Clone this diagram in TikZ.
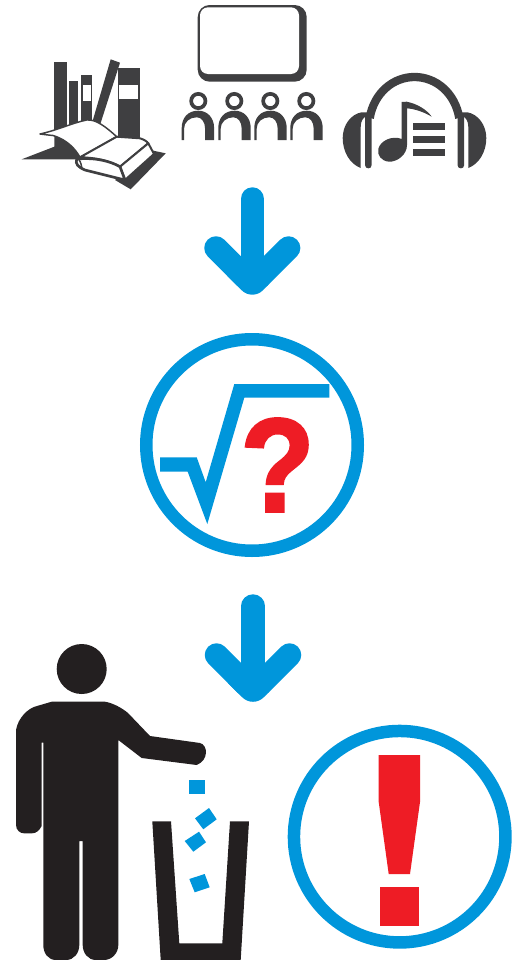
\documentclass[tikz,border=0pt]{standalone}
\usepackage{fontspec}
\setmainfont{Liberation Sans}
\newfontfamily\qfont[UprightFont={* Bold},FakeBold=2]{Liberation Sans}
\definecolor{cblue}{HTML}{0096DB}
\definecolor{cred}{HTML}{EE1C25}
\definecolor{cdark}{HTML}{3F3F41}
\definecolor{cblack}{HTML}{231F20}
\tikzset{
 ring/.style={draw=cblue,line width=12.5*0.75pt,fill=white,circle,minimum size=211.5*0.75pt,inner sep=0pt},
 arrowline/.style={draw=cblue,line width=23.5*0.75pt,line cap=round,line join=round},
 dk/.style={fill=cdark,draw=none},
 bk/.style={fill=cblack,draw=none},
 blu/.style={fill=cblue,draw=none},
 rd/.style={fill=cred,draw=none},
 page/.style={fill=white,draw=cdark,line width=1.5pt,line join=round},
}
\begin{document}
\begin{tikzpicture}[x=0.75pt,y=-0.75pt]
\useasboundingbox (0,0) rectangle (529,960);
% books
\fill[dk] (54.3,61.7) rectangle (67.3,135);
\fill[dk] (69,81) rectangle (78.3,130);
\fill[dk] (80.7,74.7) rectangle (92,125);
\fill[white] (82.7,85) rectangle (91,101);
\fill[dk] (110.7,59.3) -- (120,62.7) -- (100,125) -- (92.3,122) -- cycle;
\fill[dk] (117.7,68.3) rectangle (140.3,145);
\fill[white] (119.3,84.7) rectangle (138.3,99.3);
\fill[dk] (21.7,159.3) -- (54.3,146.7) -- (54.3,130) -- (80,130) -- (80,159.3) -- cycle;
\fill[dk] (150,150) -- (165.7,153.3) -- (130.7,189.3) -- (115,180) -- cycle;
% open book
\path[fill=white,draw=cdark,line width=1.1pt,line join=round] (40,134) .. controls (58,130) and (72,123) .. (86.7,120) .. controls (96,119) and (106,127) .. (116.7,136.7) -- (80,157.3) .. controls (76,150) and (68,140) .. (53,135.5) .. controls (48,135) and (44,134.5) .. (40,134) -- cycle;
\path[page] (116.7,136.7) -- (140,138.3) .. controls (144,139.5) and (147,141.5) .. (148.3,143.3) -- (120,166.7) .. controls (110,161) and (96,157.5) .. (80,157.3) -- cycle;
\path[page] (148.3,143.3) -- (154,154) -- (125,180) -- (120,166.7) -- cycle;
\path[fill=white,draw=cdark,line width=2pt,line join=round] (76.7,159) .. controls (95,157.3) and (110,161) .. (120,166.7) -- (125,180) -- (85,170) .. controls (78,167) and (75,164) .. (76.7,159) -- cycle;
\draw[cdark,line width=1.1pt] (78.5,159) .. controls (81,162) and (81.5,166) .. (82,169);
% screen
\path[fill=cdark,rounded corners=9pt] (197.7,5) rectangle (306.7,81.7);
\path[fill=white,rounded corners=6pt] (200,7.3) rectangle (299,74);
% audience
\foreach \hx/\hn in {198.3/a,234.3/b,270.3/c,306.3/d}{
  \node[circle,draw=cdark,line width=3.7*0.75pt,fill=white,minimum size=14.3*0.75pt,inner sep=0pt] (h\hn) at (\hx,101) {};
}
\foreach \px in {181.7,218.3,254.3,290.3}{
  \fill[cdark] (\px,140) -- (\px,128) .. controls (\px,118) and (\px+6,110.7) .. (\px+16.5,110.7)
     .. controls (\px+26,110.7) and (\px+32.4,118) .. (\px+32.4,128) -- (\px+32.4,140) -- (\px+23.4,140) -- (\px+23.4,129) .. controls (\px+23.4,122) and (\px+20,117.3) .. (\px+15,117.3)
     .. controls (\px+8,117.3) and (\px+2.3,122) .. (\px+2.3,129) -- (\px+2.3,140) -- cycle;
}
% headphones
\draw[cdark,line width=8.3*0.75pt] (369.7,118) .. controls (374,93) and (393,77) .. (414.5,77) .. controls (436,77) and (455,93) .. (459.3,118);
\fill[cdark] (367.5,112.3) -- (361.7,112.3) .. controls (351,114) and (342.7,125) .. (342.7,138) .. controls (342.7,152) and (350,164) .. (360.7,168) -- (360.7,127) .. controls (360.7,121) and (363,117) .. (367.5,116) -- cycle;
\fill[cdark] (461.5,112.3) -- (467.3,112.3) .. controls (478,114) and (486.3,125) .. (486.3,138) .. controls (486.3,152) and (479,164) .. (468.3,168) -- (468.3,127) .. controls (468.3,121) and (466,117) .. (461.5,116) -- cycle;
\fill[cdark] (365,116) -- (371.7,116) -- (371.7,165) .. controls (371.7,169.5) and (365,169.5) .. (365,165) -- cycle;
\fill[cdark] (457.5,116) -- (464.2,116) -- (464.2,165) .. controls (464.2,169.5) and (457.5,169.5) .. (457.5,165) -- cycle;
% note
\fill[cdark] (401.7,102) -- (406.7,101.7) .. controls (418,104) and (427,110) .. (431.7,116.7) .. controls (424,112) and (415,109) .. (407,108.3) -- (407,145) .. controls (407,155) and (397,162) .. (389,161.7) .. controls (381,161) and (377,155) .. (378.3,149) .. controls (380,141) and (392,135) .. (401.7,139) -- cycle;
\fill[cdark] (413.3,123.3) rectangle (445,130);
\fill[cdark] (413.3,136) rectangle (445,142.7);
\fill[cdark] (413.3,149) rectangle (445,155.7);
% arrow 1
\coordinate (a1s) at (252.3,199);
\coordinate (a1e) at (252.3,280);
\coordinate (a1l) at (216,248);
\coordinate (a1r) at (288.6,248);
\coordinate (a1il) at (245,277);
\coordinate (a1ir) at (259.6,277);
\coordinate (a1t) at (252.3,300.9);
\coordinate (a1p) at (227.3,275.9);
\coordinate (a1q) at (277.3,275.9);
\draw[arrowline] (a1s) -- (a1e);
\draw[arrowline] (a1l) -- (a1il);
\draw[arrowline] (a1r) -- (a1ir);
\fill[cblue] (a1p) [rounded corners=11.25pt] -- (a1t) -- (a1q) [sharp corners] -- cycle;
% middle circle
\node[ring] (c1) at (252,445) {};
\fill[cblue] (160,457.3) -- (196.7,457.3) -- (205.7,482.3) -- (234.3,384) -- (329.3,384) -- (329.3,397.7) -- (244.3,397.7) -- (207.3,524) -- (187.7,471.7) -- (160,471.7) -- cycle;
\node[text=cred,font=\qfont\fontsize{100pt}{100pt}\selectfont,inner sep=0pt,anchor=center,xscale=0.91] (q) at (277.5,465) {?};
% arrow 2
\coordinate (a2s) at (253,606);
\coordinate (a2e) at (253,687);
\coordinate (a2l) at (216.5,655);
\coordinate (a2r) at (289.5,655);
\coordinate (a2il) at (245.7,684.2);
\coordinate (a2ir) at (260.3,684.2);
\coordinate (a2t) at (253,708);
\coordinate (a2p) at (228,683);
\coordinate (a2q) at (278,683);
\draw[arrowline] (a2s) -- (a2e);
\draw[arrowline] (a2l) -- (a2il);
\draw[arrowline] (a2r) -- (a2ir);
\fill[cblue] (a2p) [rounded corners=11.25pt] -- (a2t) -- (a2q) [sharp corners] -- cycle;
% person
\fill[bk] (81.7,669) circle (25*0.75pt);
\fill[bk] (51.7,701.7) -- (105,701.7) .. controls (113,703) and (122,708) .. (128,713) -- (150,736) -- (200,743) .. controls (208,745) and (209,760) .. (196.7,765) -- (141.7,758) -- (118.3,740) -- (118.3,945) .. controls (118.3,953) and (112,960) .. (104,960) -- (96,960) .. controls (88,960) and (82.7,953) .. (82.7,945) -- (82.7,841) -- (79.3,841) -- (79.3,945) .. controls (79.3,953) and (74,960) .. (66,960) -- (56,960) .. controls (48,960) and (43.3,953) .. (43.3,945) -- (43.3,742.7) -- (41.7,742.7) -- (41.7,826) .. controls (39,831) and (36,833.3) .. (32,833.3) -- (24,833.3) .. controls (20,833.3) and (16,830) .. (16,825) -- (16,730) .. controls (18,718) and (28,708) .. (37,706) -- cycle;
% bin
\fill[bk] (152.3,821.3) -- (171,821.3) -- (179.3,943.3) -- (222.3,943.3) -- (230,821.3) -- (249,821.3) -- (240.7,960) -- (160.7,960) -- cycle;
% pieces
\fill[blu] (189,780) rectangle (205,794);
\fill[blu] (195,818.3) -- (209,808) -- (216.7,819.3) -- (203.3,829.3) -- cycle;
\fill[blu] (184.7,841) -- (199,831.7) -- (206,842.3) -- (193.3,851.7) -- cycle;
\fill[blu] (189.3,879) -- (204.7,874) -- (209.7,887.3) -- (194.7,892.3) -- cycle;
% right circle
\node[ring] (c2) at (399.7,836.7) {};
\fill[rd] (378.7,755) -- (420,755) -- (420,802) -- (410,874) -- (388.7,874) -- (378.7,802) -- cycle;
\fill[rd] (380.3,887) rectangle (418.7,925.7);
\end{tikzpicture}
\end{document}
